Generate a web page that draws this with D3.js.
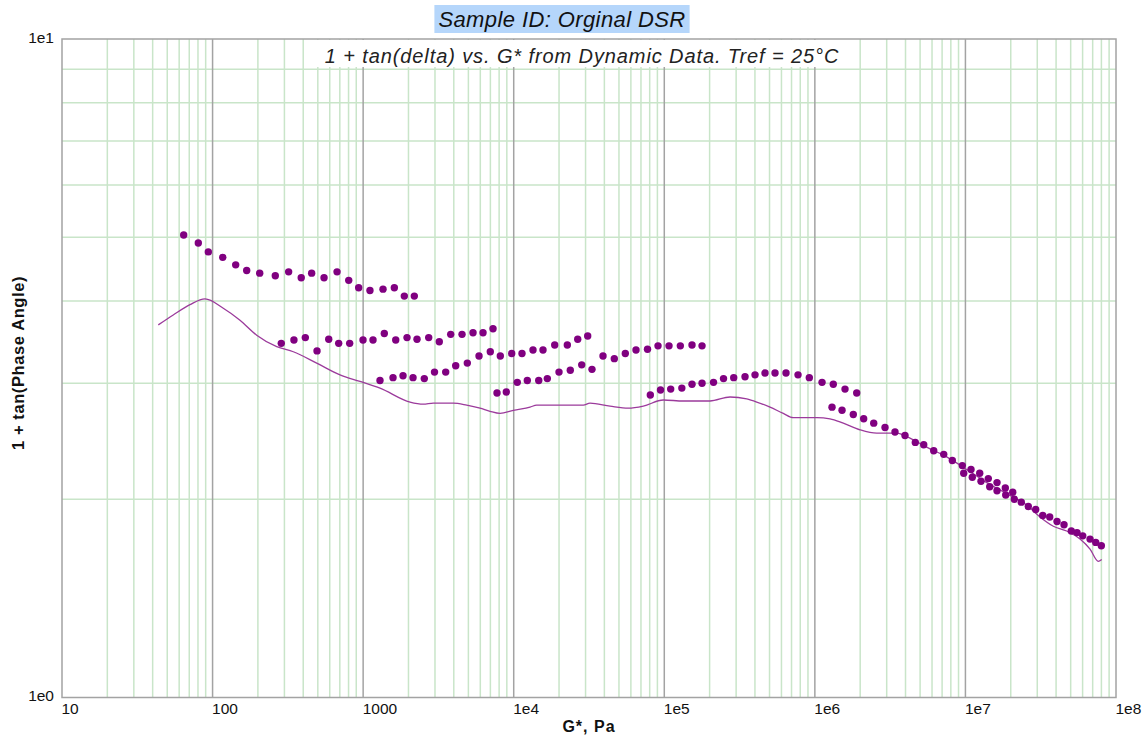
<!DOCTYPE html>
<html>
<head>
<meta charset="utf-8">
<script src="https://cdn.jsdelivr.net/npm/d3@7"></script>
<style>
  html, body { margin: 0; padding: 0; background: #ffffff; }
  svg { display: block; }
  text { font-family: "Liberation Sans", Arial, sans-serif; }
</style>
</head>
<body>
<svg id="chart" width="1148" height="740"></svg>
<script>
// Measured points, [G* (Pa), 1 + tan(delta)], one array per test segment
const seg1 = [[64.3,5.04],[80.4,4.90],[93.7,4.75],[116.8,4.66],[142.4,4.54],[168.5,4.45],[205.6,4.41],[261,4.37],[320,4.43],[388,4.34],[455,4.41],[550,4.34],[671,4.43],[802,4.30],[934,4.19],[1110,4.15],[1355,4.17],[1611,4.19],[1877,4.07],[2187,4.07]];
const seg2 = [[286,3.45],[347,3.49],[413,3.52],[494,3.36],[591,3.50],[688,3.45],[814,3.45],[998,3.49],[1163,3.49],[1382,3.57],[1646,3.49],[1956,3.52],[2279,3.50],[2725,3.52],[3205,3.47],[3815,3.56],[4536,3.56],[5366,3.58],[6254,3.58],[7286,3.63]];
const seg3 = [[1294,3.03],[1579,3.06],[1840,3.08],[2144,3.06],[2548,3.05],[2978,3.12],[3534,3.12],[4118,3.19],[4918,3.22],[5884,3.30],[6991,3.35],[8147,3.30],[9698,3.33],[11350,3.33],[13430,3.37],[15650,3.37],[18720,3.43],[22700,3.43],[26610,3.50],[31000,3.54]];
const seg4 = [[7745,2.90],[8930,2.91],[10560,3.01],[12310,3.03],[14660,3.03],[16720,3.05],[19990,3.12],[23760,3.14],[28290,3.20],[33110,3.15],[39180,3.30],[46570,3.27],[55100,3.33],[64890,3.37],[77380,3.38],[90850,3.42],[107500,3.42],[127800,3.42],[152800,3.43],[178100,3.42]];
const seg5 = [[80780,2.88],[94380,2.93],[110300,2.94],[130800,2.95],[152800,2.99],[178100,3.00],[212300,3.01],[247400,3.05],[289100,3.06],[343700,3.07],[400500,3.09],[466700,3.11],[543800,3.11],[643300,3.11],[772900,3.09],[918800,3.06],[1116000,3.01],[1326000,2.99],[1586000,2.94],[1897000,2.90]];
const seg6 = [[1300000,2.76],[1515000,2.73],[1800000,2.69],[2110000,2.65],[2460000,2.61],[2924000,2.57],[3406000,2.53],[3968000,2.50],[4647000,2.44],[5284000,2.42],[6156000,2.37],[7175000,2.34],[8186000,2.29],[9535000,2.25],[10890000,2.22],[12440000,2.19],[14190000,2.15],[16210000,2.12],[18400000,2.08],[20610000,2.05]];
const seg7 = [[9741000,2.19],[11110000,2.16],[12690000,2.13],[14500000,2.09],[16210000,2.06],[18520000,2.03],[21120000,2.00],[23500000,1.98],[26160000,1.95],[29290000,1.93],[32610000,1.89],[36290000,1.88],[40580000,1.85],[45160000,1.83],[50490000,1.79],[55100000,1.78],[60120000,1.76],[67230000,1.74],[73340000,1.72],[79900000,1.70]];
const segments = [seg1, seg2, seg3, seg4, seg5, seg6, seg7];

// Master curve, [G* (Pa), 1 + tan(delta)]
const masterCurve = [[43.6,3.68],[54.8,3.81],[70.8,3.95],[89.1,4.03],[117.8,3.90],[152.1,3.74],[196.4,3.55],[266.7,3.41],[343.8,3.35],[491.6,3.22],[702,3.09],[953,3.02],[1294,2.95],[2048,2.81],[2509,2.79],[2924,2.80],[3970,2.80],[4873,2.78],[5973,2.75],[6960,2.72],[8110,2.70],[9938,2.73],[12830,2.76],[14210,2.78],[28990,2.78],[32120,2.80],[43600,2.77],[57690,2.75],[72560,2.77],[98510,2.83],[133800,2.82],[201200,2.82],[273300,2.86],[352800,2.84],[411000,2.81],[503700,2.76],[617100,2.70],[719400,2.66],[1029000,2.66],[1261000,2.65],[1545000,2.61],[1995000,2.55],[2575000,2.52],[3497000,2.52],[4074000,2.49],[5533000,2.40],[7511000,2.32],[10200000,2.22],[13850000,2.12],[18800000,2.04],[25530000,1.96],[31290000,1.88],[38350000,1.82],[47070000,1.79],[57680000,1.74],[67230000,1.68],[76290000,1.61],[80370000,1.62]];

// Axis ticks
const xTickValues = [10, 100, 1000, 1e4, 1e5, 1e6, 1e7, 1e8];
const xTickLabels = ["10", "100", "1000", "1e4", "1e5", "1e6", "1e7", "1e8"];
const yTickValues = [1, 10];
const yTickLabels = ["1e0", "1e1"];

const titleText = "Sample ID: Orginal DSR";
const subtitleText = "1 + tan(delta) vs. G* from Dynamic Data. Tref = 25\u00B0C";
const xTitle = "G*, Pa";
const yTitle = "1 + tan(Phase Angle)";

const svg = d3.select("#chart");
const plot = { left: 62, right: 1116, top: 39, bottom: 697.5 };

const x = d3.scaleLog().domain([10, 1e8]).range([plot.left, plot.right]);
const y = d3.scaleLog().domain([1, 10]).range([plot.bottom, plot.top]);

const minorGreen = "#c9e5c9";
const decadeGray = "#a3a3a3";

// Minor grid values (2..9 within each decade)
const xMinor = [];
for (let e = 1; e < 8; e++) for (let m = 2; m <= 9; m++) xMinor.push(m * Math.pow(10, e));
const yMinor = [];
for (let m = 2; m <= 9; m++) yMinor.push(m);

const grid = svg.append("g");
grid.selectAll("line.hy").data(yMinor).join("line")
  .attr("x1", plot.left).attr("x2", plot.right)
  .attr("y1", d => y(d)).attr("y2", d => y(d))
  .attr("stroke", minorGreen).attr("stroke-width", 1.5);
grid.selectAll("line.vx").data(xMinor).join("line")
  .attr("y1", plot.top).attr("y2", plot.bottom)
  .attr("x1", d => x(d)).attr("x2", d => x(d))
  .attr("stroke", minorGreen).attr("stroke-width", 1.5);
grid.selectAll("line.dx").data(xTickValues.slice(1, -1)).join("line")
  .attr("y1", plot.top).attr("y2", plot.bottom)
  .attr("x1", d => x(d)).attr("x2", d => x(d))
  .attr("stroke", decadeGray).attr("stroke-width", 1.5);

// Subtitle sits on a white band over the top of the grid
const sub = svg.append("text")
  .attr("x", 582).attr("y", 63)
  .attr("text-anchor", "middle")
  .attr("font-size", 20).attr("font-style", "italic")
  .attr("letter-spacing", 0.9)
  .attr("fill", "#222").text(subtitleText);
const sb = sub.node().getBBox();
svg.insert("rect", () => sub.node())
  .attr("x", sb.x - 12).attr("y", plot.top + 1)
  .attr("width", sb.width + 24).attr("height", 27)
  .attr("fill", "#ffffff");

// Frame
svg.append("rect")
  .attr("x", plot.left).attr("y", plot.top)
  .attr("width", plot.right - plot.left).attr("height", plot.bottom - plot.top)
  .attr("fill", "none").attr("stroke", decadeGray).attr("stroke-width", 1.5);

// Master curve
const line = d3.line()
  .x(d => x(d[0])).y(d => y(d[1]))
  .curve(d3.curveMonotoneX);
svg.append("path").datum(masterCurve)
  .attr("d", line).attr("fill", "none")
  .attr("stroke", "#9b3a9b").attr("stroke-width", 1.3);

// Measured points
svg.append("g").selectAll("circle")
  .data(segments.flat()).join("circle")
  .attr("cx", d => x(d[0])).attr("cy", d => y(d[1]))
  .attr("r", 3.7).attr("fill", "#800080");

// X axis labels
const xAxis = d3.axisBottom(x).tickValues(xTickValues)
  .tickFormat((d, i) => xTickLabels[i]).tickSize(0).tickPadding(5);
const gx = svg.append("g").attr("transform", `translate(0,${plot.bottom})`).call(xAxis);
gx.select(".domain").remove();
gx.selectAll("text").attr("text-anchor", "start").attr("dx", "-1")
  .attr("font-size", 15.5).attr("fill", "#111")
  .style("font-family", "'Liberation Sans', Arial, sans-serif");

// Y axis labels
const yAxis = d3.axisLeft(y).tickValues(yTickValues)
  .tickFormat((d, i) => yTickLabels[i]).tickSize(0).tickPadding(8);
const gy = svg.append("g").attr("transform", `translate(${plot.left},0)`).call(yAxis);
gy.select(".domain").remove();
gy.selectAll("text").attr("font-size", 15.5).attr("fill", "#111")
  .attr("dy", "0.2em")
  .style("font-family", "'Liberation Sans', Arial, sans-serif");

// Title with highlight
const title = svg.append("text")
  .attr("x", 562).attr("y", 27)
  .attr("text-anchor", "middle")
  .attr("font-size", 22).attr("font-style", "italic")
  .attr("letter-spacing", 0.4)
  .attr("fill", "#111").text(titleText);
const tb = title.node().getBBox();
svg.insert("rect", () => title.node())
  .attr("x", tb.x - 4).attr("y", 5)
  .attr("width", tb.width + 8).attr("height", 28)
  .attr("fill", "#b5d6fb");

// Axis titles
svg.append("text")
  .attr("x", 589).attr("y", 732)
  .attr("text-anchor", "middle")
  .attr("font-size", 16).attr("font-weight", "bold")
  .attr("letter-spacing", 1)
  .attr("fill", "#111").text(xTitle);
svg.append("text")
  .attr("transform", "translate(24,363) rotate(-90)")
  .attr("text-anchor", "middle")
  .attr("font-size", 16.5).attr("font-weight", "bold")
  .attr("letter-spacing", 0.6)
  .attr("fill", "#111").text(yTitle);
</script>
</body>
</html>
